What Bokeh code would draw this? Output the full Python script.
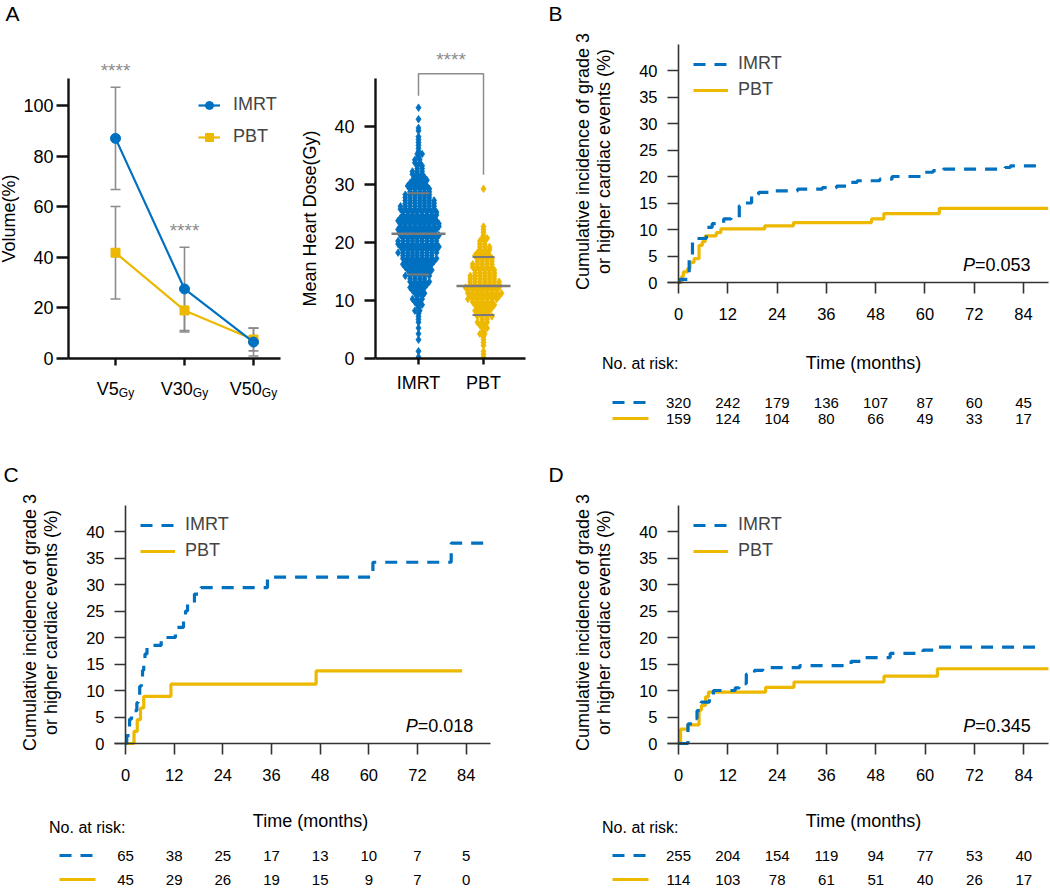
import math
from bokeh.plotting import figure
from bokeh.models import (Range1d, LinearAxis, FixedTicker, ColumnDataSource,
                          Legend, LegendItem, Whisker, TeeHead)
from bokeh.layouts import row, column
from bokeh.core.properties import value
from bokeh.embed import file_html
from bokeh.resources import INLINE

FONT = "Liberation Sans"
BLUE = "#0070C0"
GOLD = "#EDB800"
GRAY = "#8C8C8C"
INK = "#111111"

# ---------------- data ----------------
dose_metrics = ["V5", "V30", "V50"]
imrt_volume_mean = [87.0, 27.5, 6.5]
imrt_volume_sd = [20.2, 16.5, 5.5]
pbt_volume_mean = [41.8, 19.0, 7.5]
pbt_volume_sd = [18.3, 8.5, 4.5]
volume_ticks = [0, 20, 40, 60, 80, 100]
volume_stars = ["****", "****"]

mhd_groups = ["IMRT", "PBT"]
mhd_ticks = [0, 10, 20, 30, 40]
mhd_bin_width = 1.0
# patients per 1-Gy bin of mean heart dose (bin 0 = 0-1 Gy, bin 1 = 1-2 Gy, ...)
mhd_imrt_counts = [1, 1, 0, 1, 1, 1, 2, 2, 3, 4,
                   5, 6, 8, 9, 11, 12, 14, 15, 17, 18,
                   17, 17, 18, 18, 16, 16, 15, 13, 11, 10,
                   8, 6, 5, 4, 3, 3, 2, 2, 1, 2,
                   0, 1, 0, 1]
mhd_pbt_counts = [2, 1, 2, 2, 3, 4, 5, 7, 8, 10,
                  14, 15, 15, 13, 11, 10, 9, 8, 6, 5,
                  4, 2, 2, 0, 0, 0, 0, 0, 0, 1]
mhd_imrt_mean, mhd_imrt_sd = 21.5, 7.0
mhd_pbt_mean, mhd_pbt_sd = 12.5, 5.0

risk_months = [0, 12, 24, 36, 48, 60, 72, 84]
incidence_ticks = [0, 5, 10, 15, 20, 25, 30, 35, 40]

# Panel B
b_imrt_t = [0, 0.3, 2.6, 3.4, 4.5, 6.8, 8.2, 11.0, 12.8, 14.8, 15.6, 17.8, 19.5, 23.0,
            29.0, 35.0, 38.5, 41.0, 43.5, 49.0, 52.0, 60.0, 62.0, 64.5, 79.5, 80.8, 88.5]
b_imrt_v = [0, 0.6, 4.6, 7.6, 8.3, 10.4, 11.1, 12.0, 12.3, 14.5, 15.0, 16.6, 17.0, 17.3,
            17.6, 17.9, 18.2, 18.9, 19.2, 19.5, 20.0, 20.8, 21.1, 21.4, 21.7, 22.0, 22.0]
b_pbt_t = [0, 0.8, 1.2, 2.2, 2.8, 3.8, 5.0, 5.8, 6.5, 9.2, 10.3, 21.0, 28.0, 47.0, 50.0, 63.5, 90.0]
b_pbt_v = [0, 1.2, 2.0, 2.6, 3.8, 4.5, 7.0, 7.7, 8.8, 9.4, 10.1, 10.7, 11.3, 12.0, 13.0, 14.0, 14.0]
b_risk_imrt = [320, 242, 179, 136, 107, 87, 60, 45]
b_risk_pbt = [159, 124, 104, 80, 66, 49, 33, 17]
b_pvalue = "0.053"

# Panel C
c_imrt_t = [0, 0.3, 1.0, 1.5, 2.8, 3.1, 3.5, 3.9, 4.2, 4.5, 4.8, 5.3, 8.8, 12.3, 14.3,
            14.8, 15.3, 17.0, 18.6, 35.0, 61.0, 80.3, 88.3]
c_imrt_v = [0, 1.5, 4.6, 6.2, 7.7, 9.2, 10.8, 12.3, 13.8, 15.4, 16.9, 18.5, 20.0, 21.9, 23.4,
            25.0, 26.6, 28.2, 29.4, 31.4, 34.2, 37.8, 37.8]
c_pbt_t = [0, 2.1, 2.9, 3.7, 4.5, 11.2, 47.0, 83.0]
c_pbt_v = [0, 2.3, 4.5, 6.7, 8.9, 11.2, 13.7, 13.7]
c_risk_imrt = [65, 38, 25, 17, 13, 10, 7, 5]
c_risk_pbt = [45, 29, 26, 19, 15, 9, 7, 0]
c_pvalue = "0.018"

# Panel D
d_imrt_t = [0, 2.3, 3.5, 4.5, 5.5, 7.5, 8.5, 13.8, 14.8, 16.5, 18.5, 20.5, 29.5, 42.0,
            45.5, 51.5, 59.5, 62.5, 87.5]
d_imrt_v = [0, 3.7, 4.7, 6.2, 7.8, 9.1, 10.0, 10.5, 11.3, 13.1, 13.8, 14.3, 14.7, 15.5,
            16.2, 17.0, 17.6, 18.2, 18.2]
d_pbt_t = [0, 0.5, 2.3, 5.0, 5.6, 6.6, 7.3, 21.2, 28.1, 50.0, 63.0, 90.0]
d_pbt_v = [0, 2.7, 3.5, 6.3, 7.2, 8.8, 9.7, 10.6, 11.6, 12.7, 14.1, 14.1]
d_risk_imrt = [255, 204, 154, 119, 94, 77, 53, 40]
d_risk_pbt = [114, 103, 78, 61, 51, 40, 26, 17]
d_pvalue = "0.345"

YLAB1 = "Cumulative incidence of grade 3"
YLAB2 = "or higher cardiac events (%)"
XLAB = "Time (months)"

# ---------------- helpers (layout only) ----------------
CW = {'P': 0.667, '=': 0.584, '.': 0.278, 'V': 0.667, 'G': 0.778, 'y': 0.5}
for _d in "0123456789":
    CW[_d] = 0.556


def text_w(s, size):
    return sum(CW.get(c, 0.556) for c in s) * size


class Map:
    """page-pixel placement of a canvas and its data->pixel mapping"""
    def __init__(self, left, top, w, h, ox, kx, oy, ky):
        self.left, self.top, self.w, self.h = left, top, w, h
        self.ox, self.kx, self.oy, self.ky = ox, kx, oy, ky

    def x(self, px):
        return (px - self.ox) / self.kx

    def y(self, py):
        return (self.oy - py) / self.ky

    def dx(self, d):
        return d / self.kx

    def dy(self, d):
        return d / self.ky


def new_fig(m):
    p = figure(width=m.w, height=m.h,
               x_range=Range1d(m.x(m.left), m.x(m.left + m.w)),
               y_range=Range1d(m.y(m.top + m.h), m.y(m.top)),
               x_axis_location=None, y_axis_location=None,
               toolbar_location=None, output_backend="svg",
               min_border_left=0, min_border_right=0,
               min_border_top=0, min_border_bottom=0)
    p.outline_line_color = None
    p.background_fill_color = "white"
    p.border_fill_color = "white"
    p.xgrid.visible = False
    p.ygrid.visible = False
    return p


def txt(p, xs, ys, texts, size, color="black", align="center", baseline="middle",
        style="normal", angle=0.0, xoff=0, yoff=0):
    src = ColumnDataSource(dict(x=list(xs), y=list(ys), t=list(texts)))
    p.text(x="x", y="y", text="t", source=src, text_font=value(FONT),
           text_font_size=value(size), text_color=color, text_align=align,
           text_baseline=baseline, text_font_style=style, angle=angle,
           x_offset=xoff, y_offset=yoff)


def style_axis(ax, lw, tick_out, size, standoff, color=INK):
    ax.axis_line_width = lw
    ax.axis_line_color = color
    ax.major_tick_line_width = lw
    ax.major_tick_line_color = color
    ax.major_tick_out = tick_out
    ax.major_tick_in = 0
    ax.minor_tick_line_color = None
    ax.major_label_text_font = FONT
    ax.major_label_text_font_size = size
    ax.major_label_text_color = "black"
    ax.major_label_standoff = standoff
    ax.axis_label_text_font = FONT
    ax.axis_label_text_font_style = "normal"
    ax.axis_label_text_color = "black"


TOP_H, BOT_H = 440, 447

# ---------------- Panel A (left): volume ----------------
mA1 = Map(0, 0, 297, TOP_H, 46, 69, 358, 2.53)
pA1 = new_fig(mA1)
xi = [i + 1 for i in range(len(dose_metrics))]
ya = LinearAxis(fixed_location=mA1.x(68), bounds=(0, mA1.y(78)),
                ticker=FixedTicker(ticks=volume_ticks))
style_axis(ya, 2.4, 12, "18px", 3)
ya.axis_label = "Volume(%)"
ya.axis_label_text_font_size = "18px"
ya.axis_label_standoff = 1
pA1.add_layout(ya, "left")
xa = LinearAxis(fixed_location=0, bounds=(mA1.x(68), mA1.x(280)),
                ticker=FixedTicker(ticks=xi))
style_axis(xa, 2.4, 7, "18px", 6)
xa.major_label_text_color = None
pA1.add_layout(xa, "below")

for means, sds in [(pbt_volume_mean, pbt_volume_sd), (imrt_volume_mean, imrt_volume_sd)]:
    src = ColumnDataSource(dict(x=xi, up=[a + b for a, b in zip(means, sds)],
                                lo=[a - b for a, b in zip(means, sds)]))
    w = Whisker(base="x", upper="up", lower="lo", source=src, line_color=GRAY, line_width=1.6,
                upper_head=TeeHead(size=10, line_color=GRAY, line_width=1.6),
                lower_head=TeeHead(size=10, line_color=GRAY, line_width=1.6),
                level="underlay")
    pA1.add_layout(w)

rl_p = pA1.line(xi, pbt_volume_mean, line_color=GOLD, line_width=2.2)
rs_p = pA1.scatter(xi, pbt_volume_mean, marker="square", size=9, fill_color=GOLD, line_color=GOLD)
rl_i = pA1.line(xi, imrt_volume_mean, line_color=BLUE, line_width=2.2)
rs_i = pA1.scatter(xi, imrt_volume_mean, marker="circle", size=10, fill_color=BLUE, line_color=BLUE)

star_y = [imrt_volume_mean[i] + imrt_volume_sd[i] + mA1.dy(17) for i in range(len(volume_stars))]
txt(pA1, xi[:len(volume_stars)], star_y, volume_stars, "19px", color=GRAY, baseline="alphabetic")

# category labels with "Gy" subscripts
for xv, name in zip(xi, dose_metrics):
    wm, ws = text_w(name, 18), text_w("Gy", 12)
    off = -(wm + ws) / 2 + wm
    txt(pA1, [xv], [mA1.y(388)], [name], "18px", align="right", baseline="alphabetic", xoff=off)
    txt(pA1, [xv], [mA1.y(392)], ["Gy"], "12px", align="left", baseline="alphabetic", xoff=off)

txt(pA1, [mA1.x(5)], [mA1.y(13)], ["A"], "21px", align="left")

legA = Legend(items=[LegendItem(label="IMRT", renderers=[rl_i, rs_i]),
                     LegendItem(label="PBT", renderers=[rl_p, rs_p])],
              location=(198 - mA1.left, mA1.top + mA1.h - 147),
              orientation="vertical", border_line_color=None, background_fill_alpha=0.0,
              label_text_font=FONT, label_text_font_size="18px", glyph_width=22,
              glyph_height=20, label_height=20, label_standoff=13, spacing=11,
              padding=0, margin=0)
pA1.add_layout(legA)

# ---------------- Panel A (right): mean heart dose ----------------
mA2 = Map(297, 0, 248, TOP_H, 353, 65, 358, 5.8)
pA2 = new_fig(mA2)
gi = [1, 2]
ya2 = LinearAxis(fixed_location=mA2.x(375), bounds=(0, mA2.y(78)),
                 ticker=FixedTicker(ticks=mhd_ticks))
style_axis(ya2, 2.4, 11, "18px", 10)
ya2.axis_label = "Mean Heart Dose(Gy)"
ya2.axis_label_text_font_size = "18px"
ya2.axis_label_standoff = 11
pA2.add_layout(ya2, "left")
xa2 = LinearAxis(fixed_location=0, bounds=(mA2.x(375), mA2.x(525)),
                 ticker=FixedTicker(ticks=gi))
style_axis(xa2, 2.4, 6, "18px", 8)
xa2.major_label_overrides = {1: mhd_groups[0], 2: mhd_groups[1]}
pA2.add_layout(xa2, "below")


def swarm(counts, center, dx):
    xs, ys = [], []
    for b, n in enumerate(counts):
        for j, k in enumerate((n - n // 2, n // 2)):
            yv = (b + 0.25 + 0.5 * j) * mhd_bin_width
            shift = 0.25 * dx if (b + j) % 2 else -0.25 * dx
            for i in range(k):
                xs.append(center + (i - (k - 1) / 2) * dx + (shift if k > 1 else 0))
                ys.append(yv)
    return xs, ys


sdx = mA2.dx(4.8)
sx_i, sy_i = swarm(mhd_imrt_counts, 1, sdx)
sx_p, sy_p = swarm(mhd_pbt_counts, 2, sdx)
pA2.scatter(sx_i, sy_i, marker="diamond", size=7.5, fill_color=BLUE, line_color=BLUE, line_width=0.8)
pA2.scatter(sx_p, sy_p, marker="diamond", size=7.5, fill_color=GOLD, line_color=GOLD, line_width=0.8)

hw, sw = mA2.dx(27), mA2.dx(11)
for c, mu, sd in [(1, mhd_imrt_mean, mhd_imrt_sd), (2, mhd_pbt_mean, mhd_pbt_sd)]:
    pA2.segment([c - hw], [mu], [c + hw], [mu], line_color="#7A7A7A", line_width=2.6)
    pA2.segment([c - sw, c - sw], [mu - sd, mu + sd], [c + sw, c + sw], [mu - sd, mu + sd],
                line_color="#7A7A7A", line_width=2.0)

imax, pmax = max(sy_i), max(sy_p)
btop = imax + mA2.dy(34)
pA2.line([1, 1, 2, 2], [imax + mA2.dy(12), btop, btop, pmax + mA2.dy(14)],
         line_color=GRAY, line_width=1.5)
txt(pA2, [1.5], [btop + mA2.dy(14)], ["****"], "19px", color=GRAY, baseline="alphabetic")


# ---------------- KM panels ----------------
def km_panel(m, xa_px, letter, it, iv, pt, pv, risk_i, risk_p, pval, rows, nar_dy, xlab_dy):
    p = new_fig(m)
    y0 = m.oy
    right_month = m.x(m.left + m.w)
    xax = LinearAxis(fixed_location=0, bounds=(m.x(xa_px - 11), min(90.0, right_month)),
                     ticker=FixedTicker(ticks=risk_months))
    style_axis(xax, 1.6, 11, "16.5px", 14, color="#333333")
    p.add_layout(xax, "below")
    yax = LinearAxis(fixed_location=0, bounds=(0, 45),
                     ticker=FixedTicker(ticks=incidence_ticks))
    style_axis(yax, 1.6, 11, "16.5px", 10, color="#333333")
    p.add_layout(yax, "left")

    rp = p.step(pt, pv, mode="after", line_color=GOLD, line_width=3.2)
    ri = p.step(it, iv, mode="after", line_color=BLUE, line_width=3.2, line_dash="12 9")

    leg = Legend(items=[LegendItem(label="IMRT", renderers=[ri]),
                        LegendItem(label="PBT", renderers=[rp])],
                 location=(xa_px + 15 - m.left, m.top + m.h - (y0 - 227 + 45)),
                 orientation="vertical", border_line_color=None, background_fill_alpha=0.0,
                 label_text_font=FONT, label_text_font_size="18px", glyph_width=35,
                 glyph_height=20, label_height=20, label_standoff=10, spacing=5,
                 padding=0, margin=0)
    p.add_layout(leg)

    # axis titles
    txt(p, [m.x(xa_px - 96), m.x(xa_px - 75)], [m.y(y0 - 121)] * 2, [YLAB1, YLAB2], "18px",
        angle=math.pi / 2)
    txt(p, [m.x(xa_px + 185)], [m.y(y0 + xlab_dy)], [XLAB], "18px")

    # P value
    rest = "=" + pval
    wr = text_w(rest, 18)
    txt(p, [risk_months[-1]], [m.y(y0 - 18)], [rest], "18px", align="right", xoff=7)
    txt(p, [risk_months[-1]], [m.y(y0 - 18)], ["P"], "18px", align="right",
        style="italic", xoff=7 - wr)

    # risk table
    txt(p, [0], [m.y(y0 + nar_dy)], ["No. at risk:"], "16px", align="right")
    r1, r2 = m.y(y0 + rows[0]), m.y(y0 + rows[1])
    p.segment([m.x(xa_px - 66)], [r1], [m.x(xa_px - 30)], [r1], line_color=BLUE,
              line_width=3.2, line_dash="12 9")
    p.segment([m.x(xa_px - 66)], [r2], [m.x(xa_px - 30)], [r2], line_color=GOLD, line_width=3.2)
    txt(p, risk_months, [r1] * len(risk_months), [str(v) for v in risk_i], "15px")
    txt(p, risk_months, [r2] * len(risk_months), [str(v) for v in risk_p], "15px")

    lx = max(m.left + 3, xa_px - 130)
    txt(p, [m.x(lx)], [m.y(y0 - 269)], [letter], "21px", align="left")
    return p


mB = Map(545, 0, 504, TOP_H, 678, 4.107, 282, 5.3)
pB = km_panel(mB, 678, "B", b_imrt_t, b_imrt_v, b_pbt_t, b_pbt_v, b_risk_imrt, b_risk_pbt,
              b_pvalue, (120, 136), 81, 80)
mC = Map(0, TOP_H, 530, BOT_H, 125, 4.056, 743, 5.3)
pC = km_panel(mC, 125, "C", c_imrt_t, c_imrt_v, c_pbt_t, c_pbt_v, c_risk_imrt, c_risk_pbt,
              c_pvalue, (112, 136), 84, 77)
mD = Map(530, TOP_H, 519, BOT_H, 678, 4.11, 743, 5.3)
pD = km_panel(mD, 678, "D", d_imrt_t, d_imrt_v, d_pbt_t, d_pbt_v, d_risk_imrt, d_risk_pbt,
              d_pvalue, (112, 136), 84, 77)

layout = column(row(pA1, pA2, pB), row(pC, pD))
open("out.html", "w").write(file_html(layout, INLINE))
